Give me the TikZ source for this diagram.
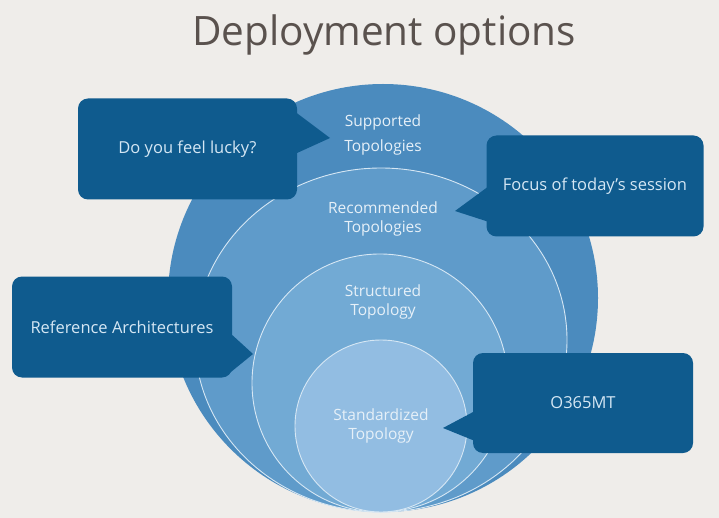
\documentclass[tikz,border=0pt]{standalone}
\usepackage{fontspec}
\setmainfont{Open Sans}
\definecolor{bg}{HTML}{EFEDEA}
\definecolor{ringA}{HTML}{4B8BBE}
\definecolor{ringB}{HTML}{5F9BCA}
\definecolor{ringC}{HTML}{72AAD4}
\definecolor{ringD}{HTML}{92BDE2}
\definecolor{ringline}{HTML}{D6E7F4}
\definecolor{cbox}{HTML}{0F5B8E}
\definecolor{ctext}{HTML}{D5E7F4}
\definecolor{rtext}{HTML}{E6F0F8}
\definecolor{ttext}{HTML}{5A524E}
\tikzset{
  ring/.style={draw=ringline, line width=0.9pt},
  callout/.style={fill=cbox, rounded corners=10pt, inner sep=0pt, text=ctext,
    font=\fontsize{16.5}{19}\selectfont},
  pointer/.style={fill=cbox},
  ringlabel/.style={text=rtext, align=center, font=\fontsize{15.5}{18.5}\selectfont},
  titlestyle/.style={text=ttext, font=\fontsize{40.5}{46}\selectfont}
}
\begin{document}
\begin{tikzpicture}[x=1pt,y=-1pt]
\fill[bg] (0,0) rectangle (719,518);
\useasboundingbox (0,0) rectangle (719,518);

\node[titlestyle] (title) at (384,35) {Deployment options};

% nested circles
\fill[ringA] (383,298) ellipse [x radius=215pt, y radius=214pt];
\draw[ring, fill=ringB] (381,340) ellipse [x radius=186pt, y radius=172pt];
\draw[ring, fill=ringC] (380,383) ellipse [x radius=128pt, y radius=129pt];
\draw[ring, fill=ringD] (381,426) ellipse [x radius=86pt, y radius=86pt];

\node[ringlabel] (supported) at (383,135) {Supported\\[6pt]Topologies};
\node[ringlabel] (recommended) at (383,219) {Recommended\\Topologies};
\node[ringlabel] (structured) at (383,302) {Structured\\Topology};
\node[ringlabel] (standardized) at (381,426) {Standardized\\Topology};

% callouts
\node[callout, minimum width=219pt, minimum height=101pt] (lucky) at (187.5,149) {Do you feel lucky?};
\coordinate (luckytip) at (330,138);
\fill[pointer] (290,108) -- (luckytip) -- (297,153) -- cycle;

\node[callout, minimum width=217pt, minimum height=101pt] (focus) at (595,186) {Focus of today’s session};
\coordinate (focustip) at (455,211);
\fill[pointer] (489,186) -- (focustip) -- (489,222) -- cycle;

\node[callout, minimum width=220pt, minimum height=101pt] (refarch) at (122,327) {Reference Architectures};
\coordinate (refarchtip) at (253,354);
\fill[pointer] (230,333) -- (refarchtip) -- (226,376) -- cycle;

\node[callout, minimum width=220pt, minimum height=100pt] (o365) at (583,403) {O365MT};
\coordinate (o365tip) at (443,428);
\fill[pointer] (475,411) -- (o365tip) -- (475,441) -- cycle;
\end{tikzpicture}
\end{document}
